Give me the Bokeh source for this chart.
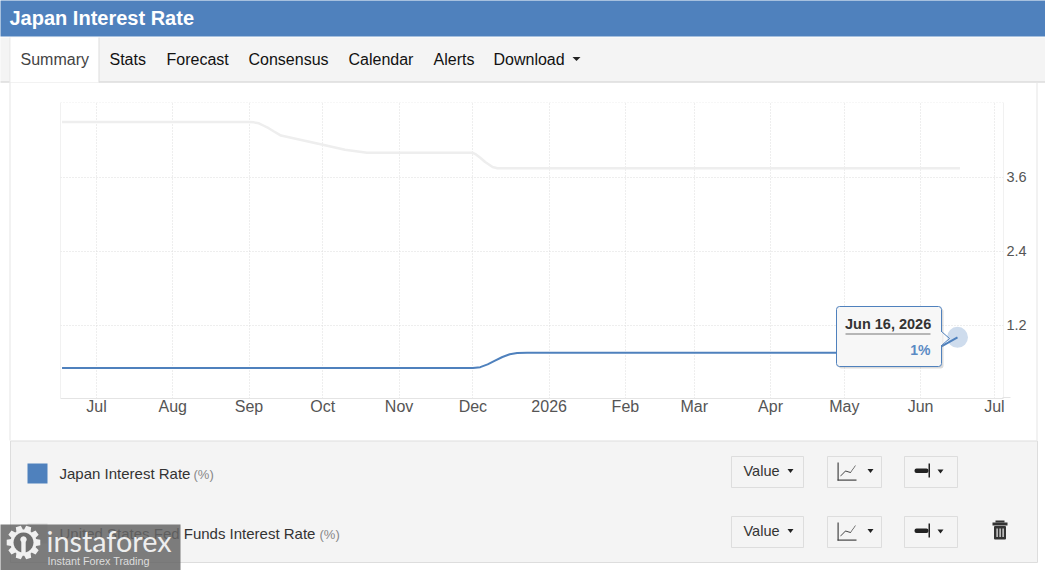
import math
import pandas as pd
from bokeh.embed import file_html
from bokeh.resources import INLINE
from bokeh.plotting import figure
from bokeh.models import (BoxAnnotation, FixedTicker, Label, PolyAnnotation,
                          Range1d, Span)

# ---- data ----
japan_dates = ["2025-06-17", "2025-12-01", "2025-12-04", "2025-12-07", "2025-12-10",
               "2025-12-13", "2025-12-16", "2025-12-19", "2025-12-23", "2026-06-05", "2026-06-16"]
japan_values = [0.5, 0.5, 0.515, 0.56, 0.62, 0.68, 0.725, 0.745, 0.75, 0.75, 1.0]

us_dates = ["2025-06-17", "2025-09-01", "2025-09-03", "2025-09-05", "2025-09-07", "2025-09-09",
            "2025-09-11", "2025-09-14", "2025-10-01", "2025-10-10", "2025-10-19", "2025-10-30",
            "2025-12-01", "2025-12-02", "2025-12-04", "2025-12-06", "2025-12-09", "2025-12-11", "2026-06-17"]
us_values = [4.5, 4.5, 4.495, 4.48, 4.44, 4.40, 4.35, 4.28, 4.13, 4.05, 4.0, 4.0,
             4.0, 3.98, 3.92, 3.85, 3.77, 3.75, 3.75]

month_ticks = ["2025-07-01", "2025-08-01", "2025-09-01", "2025-10-01", "2025-11-01", "2025-12-01",
               "2026-01-01", "2026-02-01", "2026-03-01", "2026-04-01", "2026-05-01", "2026-06-01", "2026-07-01"]
month_labels = ["Jul", "Aug", "Sep", "Oct", "Nov", "Dec", "2026", "Feb", "Mar", "Apr", "May", "Jun", "Jul"]
y_ticks = [1.2, 2.4, 3.6]
nav_items = [("Summary", 21), ("Stats", 110), ("Forecast", 167), ("Consensus", 249),
             ("Calendar", 349), ("Alerts", 434), ("Download", 494)]

BLUE = "#4f81bd"
SANS = "Liberation Sans"
GRID = "#e4e4e4"
OFF = 1  # canvas-unit furniture lands one pixel low and right of its nominal place


def ms(d):
    return pd.Timestamp(d).value / 1e6


x_min = ms("2025-06-16") + 0.37 * 86400000
x_max = ms("2026-07-04") + 0.7 * 86400000
y_min, y_max = 0.005, 4.818

pin = {"position": "absolute", "left": "0", "top": "0"}

# backdrop: page furniture, its frame fills the whole canvas
bg = figure(width=1045, height=570, output_backend="svg", toolbar_location=None,
            x_axis_type=None, y_axis_type=None, x_range=Range1d(0, 1045), y_range=Range1d(570, 0),
            min_border=0, background_fill_color="white", border_fill_color="white",
            outline_line_color=None, styles=pin)
bg.grid.visible = False

p = figure(width=1045, height=570, output_backend="svg", toolbar_location=None,
           x_range=Range1d(x_min, x_max), y_range=Range1d(y_min, y_max),
           y_axis_location="right", min_border_left=60, min_border_right=42,
           min_border_top=102, min_border_bottom=172,
           background_fill_color=None, border_fill_color=None, styles=pin)
p.outline_line_color = None

tick_ms = [ms(d) for d in month_ticks]
p.xaxis.ticker = FixedTicker(ticks=tick_ms)
p.xaxis.major_label_overrides = dict(zip(tick_ms, month_labels))
p.yaxis.ticker = FixedTicker(ticks=y_ticks)
p.yaxis.major_label_overrides = {v: str(v) for v in y_ticks}
for ax in (p.xaxis[0], p.yaxis[0]):
    ax.major_tick_line_color = None
    ax.minor_tick_line_color = None
    ax.major_label_text_font = SANS
    ax.major_label_text_color = "#555555"
p.xaxis.major_label_text_font_size = "16px"
p.yaxis.major_label_text_font_size = "14.5px"
p.xaxis.axis_line_color = GRID
p.yaxis.axis_line_color = None
p.xaxis.major_label_standoff = -7
p.yaxis.major_label_standoff = -3
for g in (p.xgrid[0], p.ygrid[0]):
    g.grid_line_color = "#dddddd"
    g.grid_line_dash = "1 2"
    g.grid_line_width = 1
p.xgrid.ticker = FixedTicker(ticks=tick_ms)
p.ygrid.ticker = FixedTicker(ticks=y_ticks)

p.add_layout(Span(location=y_max, dimension="width", line_color="#dddddd", line_dash="1 2"))
p.add_layout(Span(location=x_min, dimension="height", line_color=GRID))
p.add_layout(Span(location=x_max, dimension="height", line_color=GRID))

p.line([ms(d) for d in us_dates], us_values, line_color="#eeeeee", line_width=2.5)
p.line([ms(d) for d in japan_dates], japan_values, line_color=BLUE, line_width=2)
p.scatter([ms(japan_dates[-1])], [japan_values[-1]], size=21, fill_color=BLUE, fill_alpha=0.28,
          line_color=None)


# ---- page furniture, in canvas pixels ----
def box(l, t, r, b, fill=None, line=None, alpha=1.0, radius=0, on=bg):
    on.add_layout(BoxAnnotation(left=l - OFF, right=r - OFF, top=t - OFF, bottom=b - OFF,
                                left_units="canvas", right_units="canvas",
                                top_units="canvas", bottom_units="canvas",
                                fill_color=fill, fill_alpha=alpha if fill else 0,
                                line_color=line, line_alpha=1 if line else 0, line_width=1,
                                border_radius=radius, level="overlay"))


def poly(xs, ys, fill=None, line=None, alpha=1.0, on=bg):
    on.add_layout(PolyAnnotation(xs=[v - OFF for v in xs], ys=[v - OFF for v in ys],
                                 xs_units="canvas", ys_units="canvas",
                                 fill_color=fill, fill_alpha=alpha if fill else 0,
                                 line_color=line, line_alpha=1 if line else 0,
                                 level="overlay"))


def text(x, y, s, size, color, style="normal", align="left", font=SANS, on=bg):
    on.add_layout(Label(x=x - OFF, y=y - OFF, x_units="canvas", y_units="canvas", text=s,
                        text_font=font, text_font_size=f"{size}px", text_color=color,
                        text_font_style=style, text_align=align, text_baseline="middle",
                        level="overlay"))


def caret(cx, cy, w=3, h=4):
    poly([cx - w, cx + w, cx], [cy - h / 2, cy - h / 2, cy + h / 2], fill="#222222")


# header and nav bar
box(0, 0, 1047, 37, fill=BLUE)
box(0, 38, 1047, 82, fill="#f4f4f4")
box(0, 82, 1047, 83, fill="#cccccc")
box(10, 38, 99.5, 83, fill="white")
box(10, 38, 10.8, 83, fill="#dddddd")
box(99, 38, 100, 83, fill="#dddddd")
text(10, 18, "Japan Interest Rate", 20, "white", style="bold")
for i, (name, nx) in enumerate(nav_items):
    text(nx, 59.5, name, 16, "#444444" if i == 0 else "#111111")
caret(577, 59.5, w=4, h=4)

# page side rules and axis stubs
box(10, 83, 11, 441, fill="#e6e6e6")
box(1037, 83, 1038, 441, fill="#e6e6e6")
box(1003, 397.5, 1011, 398.5, fill=GRID)

# tooltip (on the chart, over its line)
box(839, 309, 944, 369, fill="#999999", alpha=0.35, radius=3, on=p)
box(837, 307, 942, 367, fill="#f7f7f7", line=BLUE, radius=3, on=p)
poly([942, 950, 942], [332, 339, 346], fill="#f7f7f7", line=BLUE, alpha=0.6, on=p)
box(941.5, 332.5, 942.6, 345.5, fill="#f7f7f7", on=p)
text(845.5, 324.5, "Jun 16, 2026", 14.5, "#333333", style="bold", on=p)
box(846, 334, 931, 335, fill="#777777", on=p)
text(931, 350.5, "1%", 14, "#5b8ac4", style="bold", align="right", on=p)

# legend panel
box(11, 441.5, 1038, 563, fill="#f4f4f4", line="#dddddd")
box(28, 464, 48, 484, fill=BLUE)
box(28, 524, 48, 544, fill="#dcdcdc")
text(60, 474, "Japan Interest Rate", 15, "#333333")
text(194, 474.5, "(%)", 13, "#888888")
text(60, 534, "United States Fed Funds Interest Rate", 15, "#333333")
text(320, 534.5, "(%)", 13, "#888888")

for top in (457, 517):
    box(732, top, 804, top + 31, line="#dddddd")
    box(828, top, 882, top + 31, line="#dddddd")
    box(905, top, 958, top + 31, line="#dddddd")
    text(744, top + 14.5, "Value", 14.5, "#333333")
    caret(791, top + 14.5)
    caret(871, top + 14.5)
    caret(941, top + 15)
    # chart icon
    box(838, top + 6, 839.2, top + 24, fill="#444444")
    box(838, top + 23, 857, top + 24.2, fill="#444444")
    wx = [841, 846, 851, 856]
    wy = [top + 19, top + 14, top + 15.5, top + 8.5]
    poly(wx + wx[::-1], wy + [v + 1.1 for v in wy[::-1]], fill="#444444")
    # pin icon
    box(915, top + 12, 929, top + 16.5, fill="#222222", radius=2)
    box(929, top + 7, 930.5, top + 21, fill="#222222")

# trash can
box(996, 521, 1005, 523, fill="#333333")
box(993, 523, 1008, 526, fill="#333333")
box(994.5, 526.5, 1006.5, 540, fill="#333333", radius=1)
for sx in (997, 1000, 1003):
    box(sx, 529, sx + 1.2, 537.5, fill="#f4f4f4")

# watermark
box(0, 525, 181, 571, fill="#666666", alpha=0.85)
gx, gy = 24, 543
gear_x, gear_y = [], []
teeth = 10
for k in range(teeth):
    for da, r in ((-0.42, 13), (-0.25, 17), (0.25, 17), (0.42, 13)):
        a = (k + da) * 2 * math.pi / teeth
        gear_x.append(gx + r * math.cos(a))
        gear_y.append(gy + r * math.sin(a))
poly(gear_x, gear_y, fill="#f0f0f0")
inner = [k * 2 * math.pi / 24 for k in range(24)]
poly([gx + 10 * math.cos(a) for a in inner], [gy + 10 * math.sin(a) for a in inner], fill="#6f6f6f")
poly([gx + 3.2 * math.cos(a) for a in inner], [gy - 3 + 3.2 * math.sin(a) for a in inner], fill="#f0f0f0")
box(gx - 2.2, gy - 1, gx + 2.2, gy + 13, fill="#f0f0f0")
text(47, 541, "instaforex", 28.8, "#eeeeee", font="Lato")
text(48, 561, "Instant Forex Trading", 10.8, "#dddddd")

open("out.html", "w").write(file_html([bg, p], INLINE))
